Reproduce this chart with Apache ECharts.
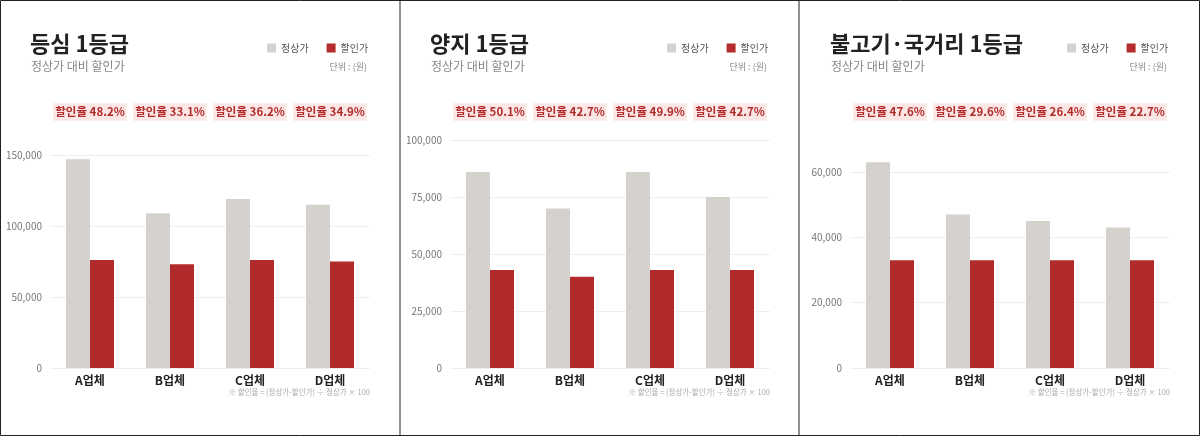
<!DOCTYPE html><html><head><meta charset="utf-8"><script src="https://cdn.jsdelivr.net/npm/echarts@6/dist/echarts.min.js"></script>
<style>html,body{margin:0;background:#fff}#c{width:1200px;height:436px}</style></head><body><div id="c"></div><script>
const categories=['A업체','B업체','C업체','D업체'];
const titles=['등심 1등급','양지 1등급','불고기·국거리 1등급'];
const regular1=[147000,109000,119000,115000], sale1=[76000,73000,76000,75000];
const regular2=[86000,70000,86000,75000], sale2=[43000,40000,43000,43000];
const regular3=[63000,47000,45000,43000], sale3=[33000,33000,33000,33000];
const rates1=['48.2%','33.1%','36.2%','34.9%'], rates2=['50.1%','42.7%','49.9%','42.7%'], rates3=['47.6%','29.6%','26.4%','22.7%'];
const axisMax=[150000,100000,60000], axisInt=[50000,25000,20000];
const regs=[regular1,regular2,regular3], sales=[sale1,sale2,sale3], rates=[rates1,rates2,rates3];
const font='"Noto Sans CJK KR","Noto Sans",sans-serif';
const grids=[],xA=[],yA=[],series=[],legends=[],g=[];
const gridTops=[155,140,172];
for(let i=0;i<3;i++){
 const ox=i*400;
 grids.push({left:ox+50,width:320,top:gridTops[i],bottom:68});
 xA.push({type:'category',gridIndex:i,data:categories,axisLine:{show:false},axisTick:{show:false},axisLabel:{color:'#222',fontWeight:'bold',fontSize:12,fontFamily:font,margin:6}});
 yA.push({type:'value',gridIndex:i,min:0,max:axisMax[i],interval:axisInt[i],axisLabel:{color:'#777',fontSize:10,fontFamily:font,formatter:v=>v.toLocaleString('en-US')},splitLine:{lineStyle:{color:'#eeeeee'}}});
 series.push({name:'정상가',type:'bar',xAxisIndex:i,yAxisIndex:i,data:regs[i],barWidth:24,barGap:'0%',clip:false,itemStyle:{color:'#d5d2ce'}});
 series.push({name:'할인가',type:'bar',xAxisIndex:i,yAxisIndex:i,data:sales[i],barWidth:24,barGap:'0%',clip:false,itemStyle:{color:'#b22a2a'}});
 legends.push({left:ox+262,top:38,itemWidth:9,itemHeight:9,itemGap:18,icon:'rect',textStyle:{fontSize:10,color:'#555',fontFamily:font},data:['정상가','할인가']});
 g.push({type:'text',left:ox+30,top:33,style:{text:titles[i],font:'bold 22px '+font,fill:'#222'}});
 g.push({type:'text',left:ox+31,top:60,style:{text:'정상가 대비 할인가',font:'12px '+font,fill:'#888'}});
 g.push({type:'text',right:1200-ox-367,top:62,style:{text:'단위 : (원)',font:'9px '+font,fill:'#888'}});
 g.push({type:'text',right:1200-ox-370,top:388,style:{text:'※ 할인율 = (정상가-할인가) ÷ 정상가 × 100',font:'7.5px '+font,fill:'#aaa'}});
 for(let j=0;j<4;j++){
  g.push({type:'text',x:ox+90+80*j,y:112,style:{text:'할인율 '+rates[i][j],font:'bold 11.5px '+font,fill:'#b22a2a',align:'center',verticalAlign:'middle',backgroundColor:'#fbe6e6',padding:[3,2]}});
 }
}
g.push({type:'rect',shape:{x:0.5,y:0.5,width:1199,height:435},style:{fill:'none',stroke:'#222',lineWidth:1}});
g.push({type:'line',shape:{x1:400,y1:0,x2:400,y2:436},style:{stroke:'#222',lineWidth:1}});
g.push({type:'line',shape:{x1:799,y1:0,x2:799,y2:436},style:{stroke:'#222',lineWidth:1}});
const ch=echarts.init(document.getElementById('c'));
ch.setOption({animation:false,grid:grids,xAxis:xA,yAxis:yA,series,legend:legends,graphic:g});
</script></body></html>
